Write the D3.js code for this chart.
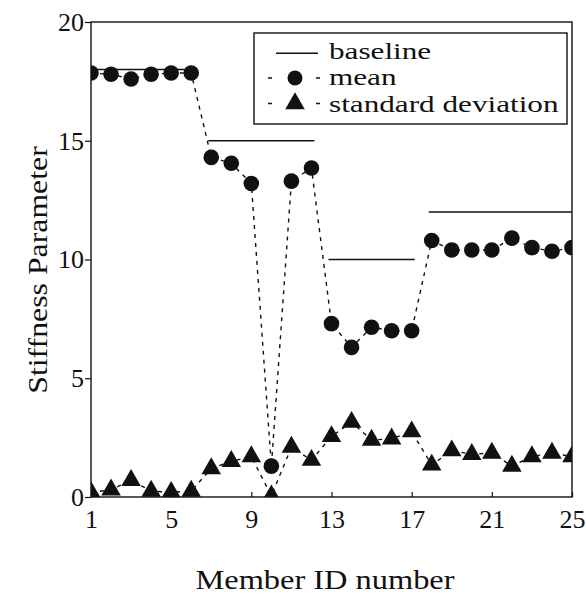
<!DOCTYPE html>
<html>
<head>
<meta charset="utf-8">
<script src="https://cdn.jsdelivr.net/npm/d3@7"></script>
<style>
  body { margin: 0; background: #fff; }
</style>
</head>
<body>
<svg width="586" height="595"></svg>
<script>
// member id on x, stiffness on y
var members = [1, 2, 3, 4, 5, 6, 7, 8, 9, 10, 11, 12, 13, 14, 15, 16, 17, 18, 19, 20, 21, 22, 23, 24, 25];
var meanVals = [17.85, 17.8, 17.6, 17.8, 17.85, 17.85, 14.3, 14.05, 13.2, 1.3, 13.3, 13.85, 7.3, 6.3, 7.15, 7.0, 7.0, 10.8, 10.4, 10.4, 10.4, 10.9, 10.5, 10.35, 10.5];
var stdVals = [0.2, 0.3, 0.7, 0.25, 0.2, 0.25, 1.2, 1.5, 1.7, 0.05, 2.1, 1.55, 2.55, 3.15, 2.4, 2.45, 2.75, 1.35, 1.95, 1.8, 1.85, 1.3, 1.7, 1.85, 1.7];
// baseline is piecewise flat
var baseFrom = [1, 7, 13, 18];
var baseTo = [6, 12, 17, 25];
var baseVals = [18, 15, 10, 12];
var xTicks = [1, 5, 9, 13, 17, 21, 25];
var yTicks = [0, 5, 10, 15, 20];
var legendLabels = ["baseline", "mean", "standard deviation"];

const serif = "Liberation Serif";

const margin = {top: 22, right: 14, bottom: 98, left: 91};
const width = 586 - margin.left - margin.right;
const height = 595 - margin.top - margin.bottom;

var svg = d3.select("svg")
  .append("g")
  .attr("transform", "translate(" + margin.left + "," + margin.top + ")");

svg.append("defs").append("clipPath")
  .attr("id", "clip")
  .append("rect")
  .attr("width", width)
  .attr("height", height);

var x = d3.scaleLinear().domain([1, 25]).range([0, width]);
var y = d3.scaleLinear().domain([0, 20]).range([height, 0]);

var meanData = members.map((m, i) => ({m: m, v: meanVals[i]}));
var stdData = members.map((m, i) => ({m: m, v: stdVals[i]}));

// the original face is a wide serif, so stretch Liberation Serif a bit
function wideText(parent, tf, txt, size, sx, anchor) {
  return parent.append("g").attr("transform", tf + " scale(" + sx + ",1)")
    .append("text")
    .attr("text-anchor", anchor || "start")
    .attr("fill", "#111")
    .attr("font-family", serif)
    .attr("font-size", size)
    .text(txt);
}

// frame
svg.append("rect")
  .attr("width", width).attr("height", height)
  .attr("fill", "none").attr("stroke", "#111").attr("stroke-width", 1.4);

// x axis, ticks pointing in
var xG = svg.append("g")
  .attr("transform", "translate(0," + height + ")")
  .call(d3.axisBottom(x).tickValues(xTicks).tickSize(-5).tickPadding(12));
xG.attr("font-family", serif).attr("font-size", 26);
xG.select(".domain").remove();
xG.selectAll("line").attr("stroke", "#111").attr("stroke-width", 1.2);
xG.selectAll("text").attr("fill", "#111").attr("dy", "0.72em");

// y axis, ticks pointing out
var yG = svg.append("g")
  .call(d3.axisLeft(y).tickValues(yTicks).tickSize(6).tickPadding(1));
yG.attr("font-family", serif).attr("font-size", 26);
yG.select(".domain").remove();
yG.selectAll("line").attr("stroke", "#111").attr("stroke-width", 1.2);
yG.selectAll("text").attr("fill", "#111");

var plot = svg.append("g").attr("clip-path", "url(#clip)");

// baseline segments
plot.selectAll(".base")
  .data(baseVals)
  .enter().append("line")
  .attr("class", "base")
  .attr("x1", (d, i) => x(baseFrom[i]) - 3)
  .attr("x2", (d, i) => x(baseTo[i]) + 3)
  .attr("y1", d => y(d))
  .attr("y2", d => y(d))
  .attr("stroke", "#111").attr("stroke-width", 1.5);

var line = d3.line().x(d => x(d.m)).y(d => y(d.v));

plot.append("path").datum(meanData)
  .attr("d", line)
  .attr("fill", "none").attr("stroke", "#111")
  .attr("stroke-width", 1.4).attr("stroke-dasharray", "4,5");

plot.append("path").datum(stdData)
  .attr("d", line)
  .attr("fill", "none").attr("stroke", "#111")
  .attr("stroke-width", 1.4).attr("stroke-dasharray", "4,5");

plot.selectAll(".mean")
  .data(meanData)
  .enter().append("circle")
  .attr("class", "mean")
  .attr("cx", d => x(d.m))
  .attr("cy", d => y(d.v))
  .attr("r", 7.8)
  .attr("fill", "#111");

var tri = d3.symbol().type(d3.symbolTriangle).size(165);
plot.selectAll(".sd")
  .data(stdData)
  .enter().append("path")
  .attr("class", "sd")
  .attr("d", tri)
  .attr("transform", d => "translate(" + x(d.m) + "," + y(d.v) + ")")
  .attr("fill", "#111");

// legend
var lg = svg.append("g").attr("transform", "translate(" + (254 - margin.left) + "," + (33 - margin.top) + ")");
lg.append("rect")
  .attr("width", 313).attr("height", 91)
  .attr("fill", "#fff").attr("stroke", "#111").attr("stroke-width", 1.4);

var textY = [25.5, 52, 79.3];
var symY = [20.3, 45, 70.5];
legendLabels.forEach(function(d, i) {
  wideText(lg, "translate(75," + textY[i] + ")", d, 24, 1.3);
});

lg.append("line")
  .attr("x1", 22).attr("x2", 64).attr("y1", symY[0]).attr("y2", symY[0])
  .attr("stroke", "#111").attr("stroke-width", 1.5);
[1, 2].forEach(function(r) {
  lg.append("line")
    .attr("x1", 14).attr("x2", 66).attr("y1", symY[r]).attr("y2", symY[r])
    .attr("stroke", "#111").attr("stroke-width", 1.4).attr("stroke-dasharray", "4,44");
});
lg.append("circle").attr("cx", 41).attr("cy", symY[1]).attr("r", 7.5).attr("fill", "#111");
lg.append("path").attr("d", tri).attr("transform", "translate(41," + symY[2] + ")").attr("fill", "#111");

// axis titles
wideText(svg, "translate(" + (325 - margin.left) + "," + (589 - margin.top) + ")",
  "Member ID number", 27, 1.2, "middle");

wideText(svg, "translate(" + (47 - margin.left) + "," + (270 - margin.top) + ") rotate(-90)",
  "Stiffness Parameter", 26.5, 1.2, "middle");
</script>
</body>
</html>
